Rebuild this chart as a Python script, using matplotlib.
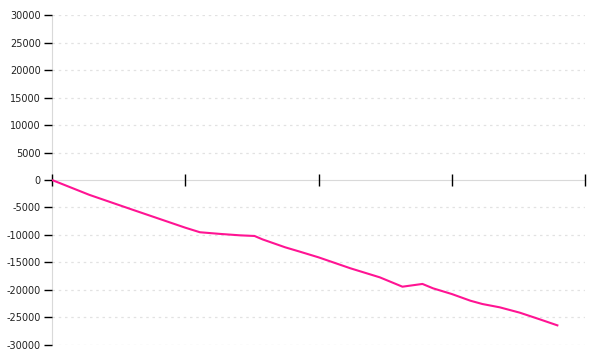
import matplotlib.pyplot as plt

plt.rcParams.update({
    "font.family": "DejaVu Sans",
    "font.size": 7,
    "axes.unicode_minus": False,
})

LINE_COLOR = "#ff1493"

# series (x in tick units, 100 per major tick)
x_vals = [0, 28, 61, 100, 111, 126, 141, 152, 158, 175, 186, 200, 224, 246,
          263, 269, 278, 286, 300, 314, 323, 336, 351, 366, 380]
y_vals = [0, -2700, -5450, -8670, -9500, -9800, -10060, -10180, -10800, -12240,
          -13030, -14060, -16060, -17700, -19400, -19200, -18900, -19700,
          -20730, -21950, -22550, -23150, -24120, -25330, -26490]
x_ticks = [0, 100, 200, 300, 400]
y_ticks = list(range(-30000, 30001, 5000))

fig = plt.figure(figsize=(6, 3.6), dpi=100)
ax = fig.add_axes([0.0867, 0.0417, 0.8883, 0.9166])

ax.plot(x_vals, y_vals, color=LINE_COLOR, linewidth=1.5, solid_capstyle="butt")

ax.set_xlim(0, 400)
ax.set_ylim(-30000, 30000)
ax.set_xticks(x_ticks)
ax.set_xticklabels([])
ax.set_yticks(y_ticks)

for v in y_ticks:
    if v != 0:
        ax.axhline(v, color="#e2e2e2", linewidth=0.9, linestyle=(0, (2, 3)), zorder=0)

ax.spines[["top", "right"]].set_visible(False)
ax.spines["left"].set_color("#d9d9d9")
ax.spines["left"].set_zorder(0.5)
ax.spines["bottom"].set_position(("data", 0))
ax.spines["bottom"].set_color("#d9d9d9")
ax.spines["bottom"].set_zorder(0.5)
ax.tick_params(axis="x", direction="inout", length=9, width=1, color="black")
ax.tick_params(axis="y", direction="out", length=6, width=1, color="black",
               pad=2, labelcolor="#222222")

fig.savefig("out.png", dpi=100)
